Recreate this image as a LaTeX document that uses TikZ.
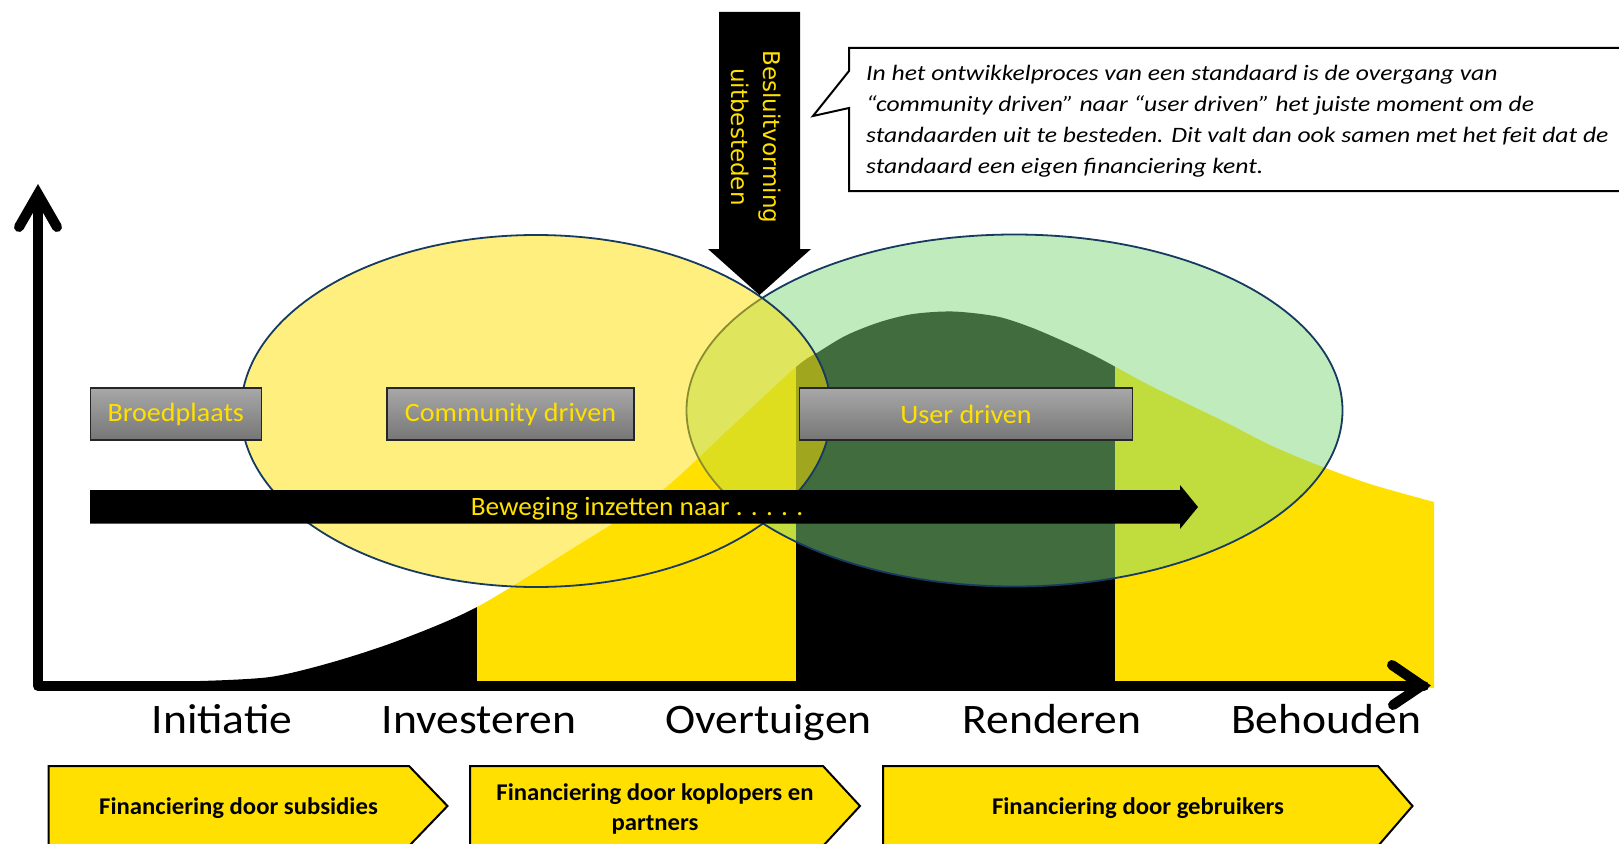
\documentclass[tikz,border=0pt]{standalone}
\usepackage{fontspec}
\setmainfont{Carlito}
\newfontfamily\dvsans{DejaVu Sans}
\newfontfamily\phasefont[FakeStretch=1.085]{Carlito}
\newfontfamily\boxfont[FakeStretch=1.06]{Carlito}
\newfontfamily\bewfont[FakeStretch=1.03]{Carlito}
\newfontfamily\callfont[FakeStretch=1.165]{Carlito}
\usetikzlibrary{shapes.geometric,shadings}
\definecolor{yel}{RGB}{255,224,0}
\definecolor{ellgreen}{RGB}{130,217,122}
\definecolor{ellline}{RGB}{22,58,96}
\definecolor{greytop}{RGB}{168,168,168}
\definecolor{greybot}{RGB}{118,118,118}
\definecolor{boxline}{RGB}{38,38,38}
\begin{document}
\begin{tikzpicture}[x=1pt,y=-1pt,
  axisline/.style={line width=10, line cap=round, line join=round},
  axishead/.style={line width=10, line cap=round, line join=miter},
  ellnode/.style={ellipse, draw=ellline, line width=1.8, draw opacity=1, fill opacity=0.5, inner sep=0},
  greybox/.style={rectangle, draw=boxline, line width=1.5, top color=greytop, bottom color=greybot,
     text=yel, font=\boxfont\fontsize{26.5}{30}\selectfont, minimum height=52, inner sep=0},
  phase/.style={font=\phasefont\fontsize{42}{48}\selectfont, anchor=base},
  chev/.style={fill=yel, draw=black, line width=2, line join=miter},
  fintext/.style={font=\bewfont\bfseries\fontsize{24}{30}\selectfont, align=center}]
\useasboundingbox (0,0) rectangle (1619,843);
\fill[white] (0,0) rectangle (1619,843);

% life-cycle curve, split into coloured phases
\foreach \xa/\xb/\col in {0/477/black, 477/796/yel, 796/1115/black, 1115/1440/yel}{
  \begin{scope}
    \clip (\xa,0) rectangle (\xb,690);
    \fill[\col] plot[smooth,tension=0.5] coordinates {(200,681) (270,677) (333,662) (400,640) (477,607) (575,547) (659,493) (730,428) (796,367) (820,351) (847,335) (880,322) (913,314) (953,311.5) (997,316.5) (1030,327) (1063,341) (1097,357) (1147,384) (1190,405) (1227,423) (1270,445) (1315,464) (1370,484) (1434,502)} -- (1434,688) -- (200,688) -- cycle;
  \end{scope}
}

% axes
\draw[axisline] (38,200) -- (38,686) -- (1424,686);
\draw[axishead] (19,227) -- (38,194) -- (57,227);
\draw[axishead] (1392,665) -- (1422,685.5) -- (1393,705);

% ellipses
\node[ellnode, fill=ellgreen, minimum width=656, minimum height=352] (userell) at (1014.5,410.5) {};
\node[ellnode, fill=yel, minimum width=590, minimum height=352] (commell) at (536,411) {};

% grey boxes
\node[greybox, minimum width=171] (broed) at (175.75,414) {\raisebox{-2pt}{Broedplaats}};
\node[greybox, minimum width=247] (comm) at (510.5,414) {\raisebox{-2pt}{Community driven}};
\node[greybox, minimum width=333] (user) at (966,414) {\raisebox{-2pt}{User driven}};

% movement arrow
\fill[black] (90,490) -- (1180,490) -- (1180,485) -- (1198,507) -- (1180,529) -- (1180,523.5) -- (90,523.5) -- cycle;
\node[text=yel, font=\bewfont\fontsize{26.5}{30}\selectfont] (beweging) at (637,509) {Beweging inzetten naar . . . . .};

% decision arrow
\fill[black] (719,12) -- (800,12) -- (800,249) -- (811,249) -- (759.5,295) -- (708,249) -- (719,249) -- cycle;
\node[rotate=-90, text=yel, align=center, font=\dvsans\fontsize{23}{32}\selectfont] (besluit) at (756,137) {Besluitvorming\\uitbesteden};

% callout
\draw[fill=white, line width=2, line join=miter] (849,48) -- (1630,48) -- (1630,191) -- (849,191) -- (849,108) -- (813,116) -- (849,71) -- cycle;
\node[anchor=north west, inner sep=0, align=left, font=\callfont\itshape\fontsize{22}{30.8}\selectfont] (calltext) at (866,65.5)
 {In het ontwikkelproces van een standaard is de overgang van\\
  “community driven” naar “user driven” het juiste moment om de\\
  standaarden uit te besteden. Dit valt dan ook samen met het feit dat de\\
  standaard een eigen financiering kent.};

% phase labels
\node[phase] (initiatie) at (222,733.5) {Initiatie};
\node[phase] (investeren) at (479,733.5) {Investeren};
\node[phase] (overtuigen) at (768.5,733.5) {Overtuigen};
\node[phase] (renderen) at (1052,733.5) {Renderen};
\node[phase] (behouden) at (1326,733.5) {Behouden};

% financing chevrons
\draw[chev] (48.5,766) -- (409,766) -- (447.5,806) -- (409,846) -- (48.5,846) -- cycle;
\draw[chev] (470,766) -- (823,766) -- (860,806) -- (823,846) -- (470,846) -- cycle;
\draw[chev] (883,766) -- (1378,766) -- (1412.5,806) -- (1378,846) -- (883,846) -- cycle;
\node[fintext] (fin1) at (238.5,808) {Financiering door subsidies};
\node[fintext] (fin2) at (655,809) {Financiering door koplopers en\\partners};
\node[fintext] (fin3) at (1138,808) {Financiering door gebruikers};
\end{tikzpicture}
\end{document}
